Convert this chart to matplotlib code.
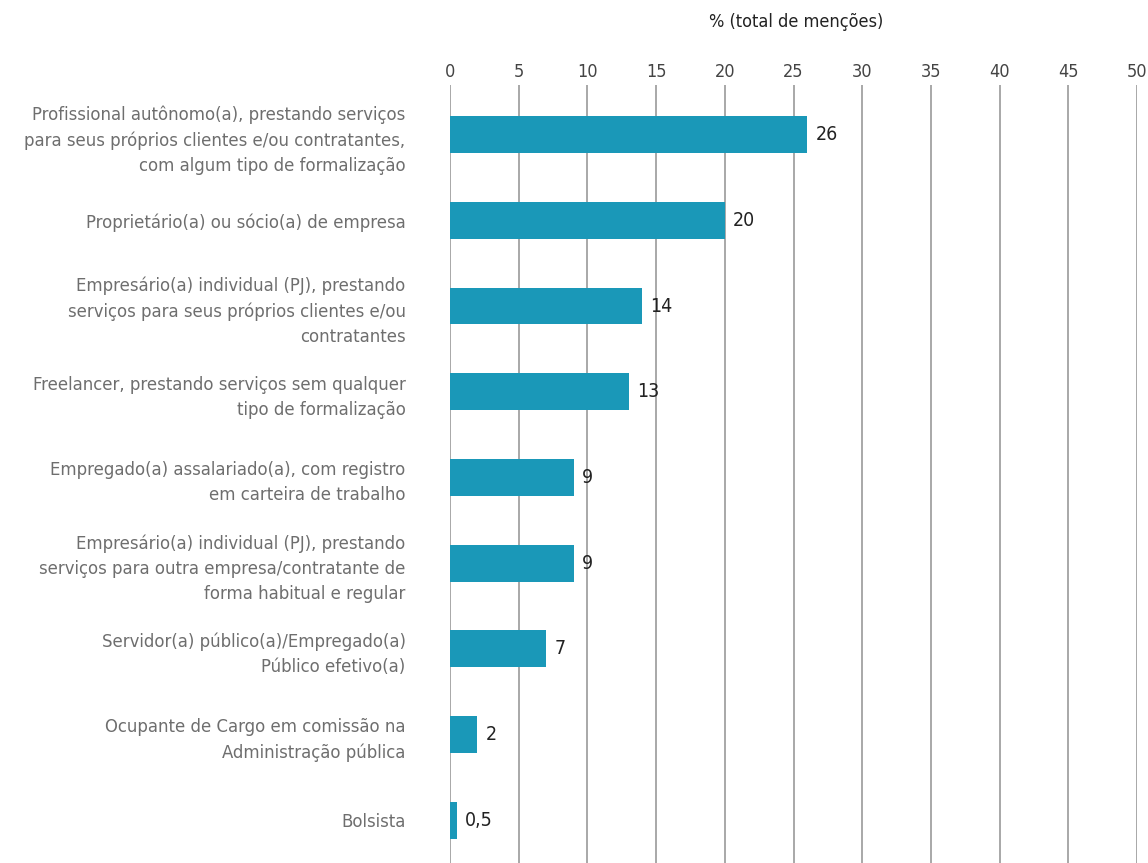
import matplotlib
matplotlib.use('Agg')
import matplotlib.pyplot as plt
import numpy as np

plt.rcParams['font.family'] = ['DejaVu Sans']
plt.rcParams['font.stretch'] = 'condensed'

categorias = [
    'Profissional autônomo(a), prestando serviços\npara seus próprios clientes e/ou contratantes,\ncom algum tipo de formalização',
    'Proprietário(a) ou sócio(a) de empresa',
    'Empresário(a) individual (PJ), prestando\nserviços para seus próprios clientes e/ou\ncontratantes',
    'Freelancer, prestando serviços sem qualquer\ntipo de formalização',
    'Empregado(a) assalariado(a), com registro\nem carteira de trabalho',
    'Empresário(a) individual (PJ), prestando\nserviços para outra empresa/contratante de\nforma habitual e regular',
    'Servidor(a) público(a)/Empregado(a)\nPúblico efetivo(a)',
    'Ocupante de Cargo em comissão na\nAdministração pública',
    'Bolsista',
]
valores = [26, 20, 14, 13, 9, 9, 7, 2, 0.5]
rotulos = ['26', '20', '14', '13', '9', '9', '7', '2', '0,5']
ticks_x = [0, 5, 10, 15, 20, 25, 30, 35, 40, 45, 50]

fig = plt.figure(figsize=(11.48, 8.63), dpi=100)
ax = fig.add_axes([450 / 1148, 0, 687 / 1148, 778 / 863])

y = np.arange(len(categorias))
ax.barh(y, valores, height=0.43, color='#1a98b8', zorder=3)

# rótulos de valor à direita de cada barra
for yi, v, r in zip(y, valores, rotulos):
    ax.text(v + 0.6, yi, r, va='center', ha='left', fontsize=14, color='#222222')

ax.set_xlim(0, 50)
ax.set_ylim(8.5, -0.58)
ax.set_xticks(ticks_x)
ax.xaxis.tick_top()
ax.tick_params(axis='x', length=0, labelsize=13, colors='#444444', pad=3)
ax.grid(axis='x', color='#9a9a9a', linewidth=1.2, zorder=0)

ax.set_yticks(y)
ax.set_yticklabels(categorias, fontsize=13.2, color='#6e6e6e', linespacing=1.5)
ax.tick_params(axis='y', length=0, pad=32)

for s in ax.spines.values():
    s.set_visible(False)

fig.text(796 / 1148, 1 - 22 / 863, '% (total de menções)', ha='center', va='center',
         fontsize=13, color='#222222')

fig.savefig('out.png', dpi=100)
